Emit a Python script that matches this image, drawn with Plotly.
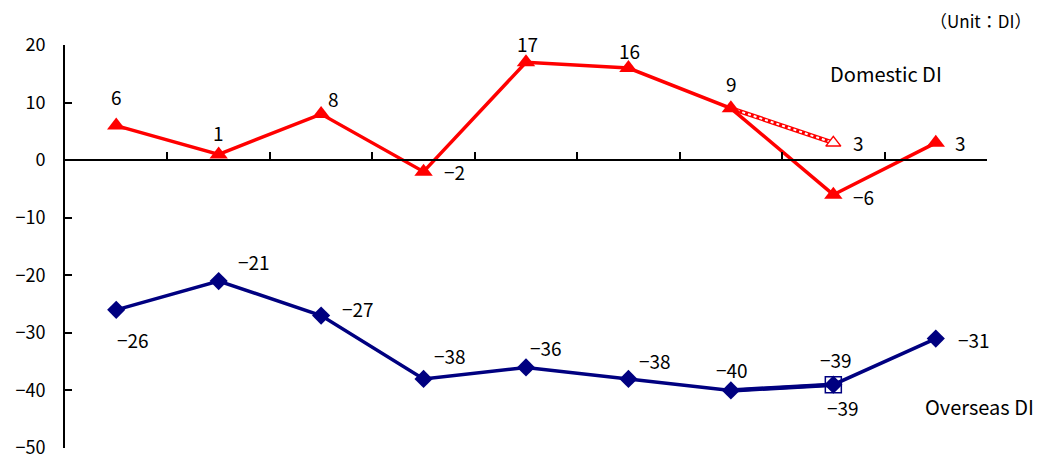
import plotly.graph_objects as go

periods = list(range(9))
domestic = [6, 1, 8, -2, 17, 16, 9, -6, 3]
overseas = [-26, -21, -27, -38, -36, -38, -40, -39, -31]
forecast_idx = [6, 7]
domestic_forecast = [9, 3]
overseas_forecast = [-40, -39]
y_ticks = [20, 10, 0, -10, -20, -30, -40, -50]

RED = "#FF0000"
NAVY = "#000080"
FONT = "Noto Sans CJK JP"

# label offsets in pixels (style only)
dom_off = [(0, 29), (0, 22), (12, 16), (31, 0), (1, 19), (1, 18), (1, 25), (30, -2), (25, 0)]
ovs_off = [(17, -30), (35, 20), (37, 7), (26, 23), (20, 20), (27, 18), (1, 21), (3, 25), (38, -1)]
dom_fc_off = (25, 0)
ovs_fc_off = (10, -23)

fig = go.Figure()

# forecast dotted lines (drawn under)
fig.add_trace(go.Scatter(x=forecast_idx, y=domestic_forecast, mode="lines",
                         line=dict(color=RED, width=4.5), hoverinfo="skip", showlegend=False))
fig.add_trace(go.Scatter(x=forecast_idx, y=domestic_forecast, mode="lines",
                         line=dict(color="white", width=2, dash="dot"), hoverinfo="skip", showlegend=False))
fig.add_trace(go.Scatter(x=forecast_idx, y=overseas_forecast, mode="lines",
                         line=dict(color=NAVY, width=4.5), hoverinfo="skip", showlegend=False))
fig.add_trace(go.Scatter(x=forecast_idx, y=overseas_forecast, mode="lines",
                         line=dict(color="white", width=2, dash="dot"), hoverinfo="skip", showlegend=False))

fig.add_trace(go.Scatter(x=periods, y=domestic, mode="lines+markers",
                         line=dict(color=RED, width=3.5),
                         marker=dict(symbol="triangle-up", size=16, color=RED),
                         showlegend=False))
fig.add_trace(go.Scatter(x=periods, y=overseas, mode="lines+markers",
                         line=dict(color=NAVY, width=3.5),
                         marker=dict(symbol="diamond", size=14, color=NAVY),
                         showlegend=False))

# forecast end markers
fig.add_trace(go.Scatter(x=[forecast_idx[-1]], y=[domestic_forecast[-1]], mode="markers",
                         marker=dict(symbol="triangle-up", size=13, color="white",
                                     line=dict(color=RED, width=1.5)),
                         showlegend=False))
fig.add_trace(go.Scatter(x=[forecast_idx[-1]], y=[overseas_forecast[-1]], mode="markers",
                         marker=dict(symbol="square-open", size=16, color=NAVY,
                                     line=dict(color=NAVY, width=1.5)),
                         showlegend=False))

ann = []
def lab(x, y, off):
    ann.append(dict(x=x, y=y, text=f"{y}".replace("-", "\u2212"), showarrow=False,
                    xshift=off[0], yshift=off[1], font=dict(family=FONT, size=19, color="black")))

for i, v in enumerate(domestic):
    lab(periods[i], v, dom_off[i])
for i, v in enumerate(overseas):
    lab(periods[i], v, ovs_off[i])
lab(forecast_idx[-1], domestic_forecast[-1], dom_fc_off)
lab(forecast_idx[-1], overseas_forecast[-1], ovs_fc_off)

ann.append(dict(xref="paper", yref="paper", x=0.828, y=0.93, text="Domestic DI", showarrow=False,
                xanchor="left", yanchor="middle", font=dict(family=FONT, size=20, color="black")))
ann.append(dict(xref="paper", yref="paper", x=0.931, y=0.102, text="Overseas DI", showarrow=False,
                xanchor="left", yanchor="middle", font=dict(family=FONT, size=20, color="black")))
ann.append(dict(xref="paper", yref="paper", x=1.05, y=1.062, text="\uff08Unit\uff1aDI\uff09", showarrow=False,
                xanchor="right", yanchor="middle", font=dict(family=FONT, size=17, color="black")))

fig.update_layout(
    width=1043, height=458,
    margin=dict(l=65, r=56, t=45, b=10),
    plot_bgcolor="white", paper_bgcolor="white",
    annotations=ann,
    xaxis=dict(range=[-0.5, 8.5], anchor="free", position=50 / 70,
               showline=True, linecolor="black", linewidth=2,
               tickvals=[i + 0.5 for i in periods], ticks="inside", ticklen=7,
               tickcolor="black", tickwidth=1.5, showticklabels=False,
               showgrid=False, zeroline=False, automargin=False),
    yaxis=dict(range=[-50, 20], tickvals=y_ticks, ticks="inside", ticklen=7,
               tickcolor="black", tickwidth=1.5, showline=True, linecolor="black",
               linewidth=2, showgrid=False, zeroline=False, ticklabelstandoff=14,
               automargin=False, ticklabeloverflow="allow",
               tickfont=dict(family=FONT, size=18, color="black")),
)

fig.write_html("out.html", config={"displayModeBar": False},
               post_script="document.body.style.margin='0';")
